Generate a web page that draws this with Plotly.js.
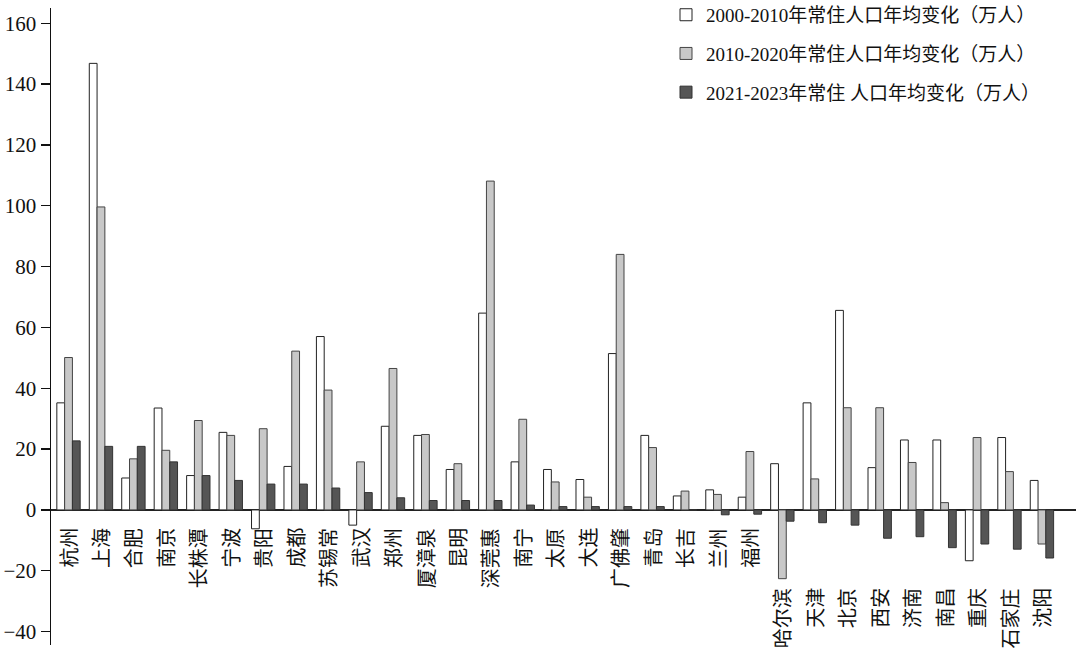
<!DOCTYPE html>
<html>
<head>
<meta charset="utf-8">
<script src="https://cdn.plot.ly/plotly-3.0.1.min.js"></script>
<style>
  body { margin: 0; background: #fff; }
  #chart { width: 1080px; height: 652px; }
</style>
</head>
<body>
<div id="chart"></div>
<script>
// cities (都市圈) in the order of the figure
var cities = ['杭州', '上海', '合肥', '南京', '长株潭', '宁波', '贵阳', '成都', '苏锡常',
    '武汉', '郑州', '厦漳泉', '昆明', '深莞惠', '南宁', '太原', '大连', '广佛肇', '青岛',
    '长吉', '兰州', '福州', '哈尔滨', '天津', '北京', '西安', '济南', '南昌', '重庆',
    '石家庄', '沈阳'];

// 年均变化（万人）
var change2000_2010 = [35.2, 146.8, 10.5, 33.5, 11.3, 25.5, -6.2, 14.3, 57.0,
    -5.0, 27.5, 24.5, 13.3, 64.7, 15.8, 13.3, 10.0, 51.4, 24.5,
    4.6, 6.6, 4.2, 15.2, 35.2, 65.6, 13.9, 23.0, 23.0, -16.7,
    23.8, 9.7];
var change2010_2020 = [50.1, 99.6, 16.8, 19.6, 29.4, 24.5, 26.7, 52.2, 39.4,
    15.8, 46.5, 24.8, 15.2, 108.1, 29.8, 9.2, 4.2, 84.0, 20.5,
    6.2, 5.1, 19.2, -22.6, 10.2, 33.6, 33.6, 15.6, 2.4, 23.8,
    12.6, -11.2];
var change2021_2023 = [22.7, 20.9, 20.9, 15.8, 11.3, 9.7, 8.5, 8.5, 7.2,
    5.7, 4.0, 3.1, 3.1, 3.1, 1.6, 1.1, 1.1, 1.1, 1.1,
    0, -1.6, -1.4, -3.7, -4.2, -5.0, -9.3, -8.8, -12.4, -11.2,
    -12.9, -15.8];

var seriesNames = ['2000-2010年常住人口年均变化（万人）',
    '2010-2020年常住人口年均变化（万人）',
    '2021-2023年常住 人口年均变化（万人）'];

var fills = ['#ffffff', '#c8c8c8', '#555555'];
var lines = ['#222222', '#444444', '#333333'];
var values = [change2000_2010, change2010_2020, change2021_2023];

var traces = [];
for (var s = 0; s < 3; s++) {
    traces.push({
        type: 'bar',
        name: seriesNames[s],
        x: cities,
        y: values[s],
        legendgroup: 'g' + s,
        marker: { color: fills[s], line: { color: lines[s], width: 1 } },
        hoverinfo: 'skip'
    });
}

// labels below the zero line, read bottom to top; the shrinking cities sit lower
var firstLowLabel = cities.indexOf('哈尔滨');
var annotations = [];
cities.forEach(function (c, i) {
    annotations.push({
        x: c, y: 0, xref: 'x', yref: 'y',
        text: c,
        showarrow: false,
        textangle: -90,
        xanchor: 'center', yanchor: 'top',
        yshift: i >= firstLowLabel ? -76 : -16,
        font: { family: 'Noto Sans CJK SC, sans-serif', size: 20, color: '#111' }
    });
});

var layout = {
    width: 1080, height: 652,
    margin: { l: 51, r: 4, t: 8, b: 7, autoexpand: false },
    paper_bgcolor: '#fff', plot_bgcolor: '#fff',
    barmode: 'group',
    bargap: 0.28,
    bargroupgap: 0,
    font: { family: 'Liberation Serif, Noto Sans CJK SC, serif', color: '#111' },
    showlegend: true,
    legend: {
        x: 0.6, y: 1.019, xanchor: 'left', yanchor: 'top',
        traceorder: 'grouped', tracegroupgap: 11,
        font: { family: 'Liberation Serif, Noto Sans CJK SC, serif', size: 19, color: '#111' },
        bgcolor: 'rgba(0,0,0,0)'
    },
    xaxis: {
        type: 'category',
        range: [-0.54, 31.05],
        showticklabels: false, ticks: '',
        showline: false, showgrid: false, zeroline: false
    },
    yaxis: {
        range: [-44.4, 165],
        tickmode: 'linear', tick0: 0, dtick: 20,
        ticks: 'outside', ticklen: 9, tickwidth: 1.3, tickcolor: '#111',
        showline: true, linecolor: '#111', linewidth: 1.5,
        showgrid: false,
        zeroline: true, zerolinecolor: '#222', zerolinewidth: 1.5,
        tickfont: { family: 'Liberation Serif, serif', size: 21, color: '#111' }
    },
    annotations: annotations
};

Plotly.newPlot('chart', traces, layout, { displayModeBar: false, staticPlot: true });
</script>
</body>
</html>
